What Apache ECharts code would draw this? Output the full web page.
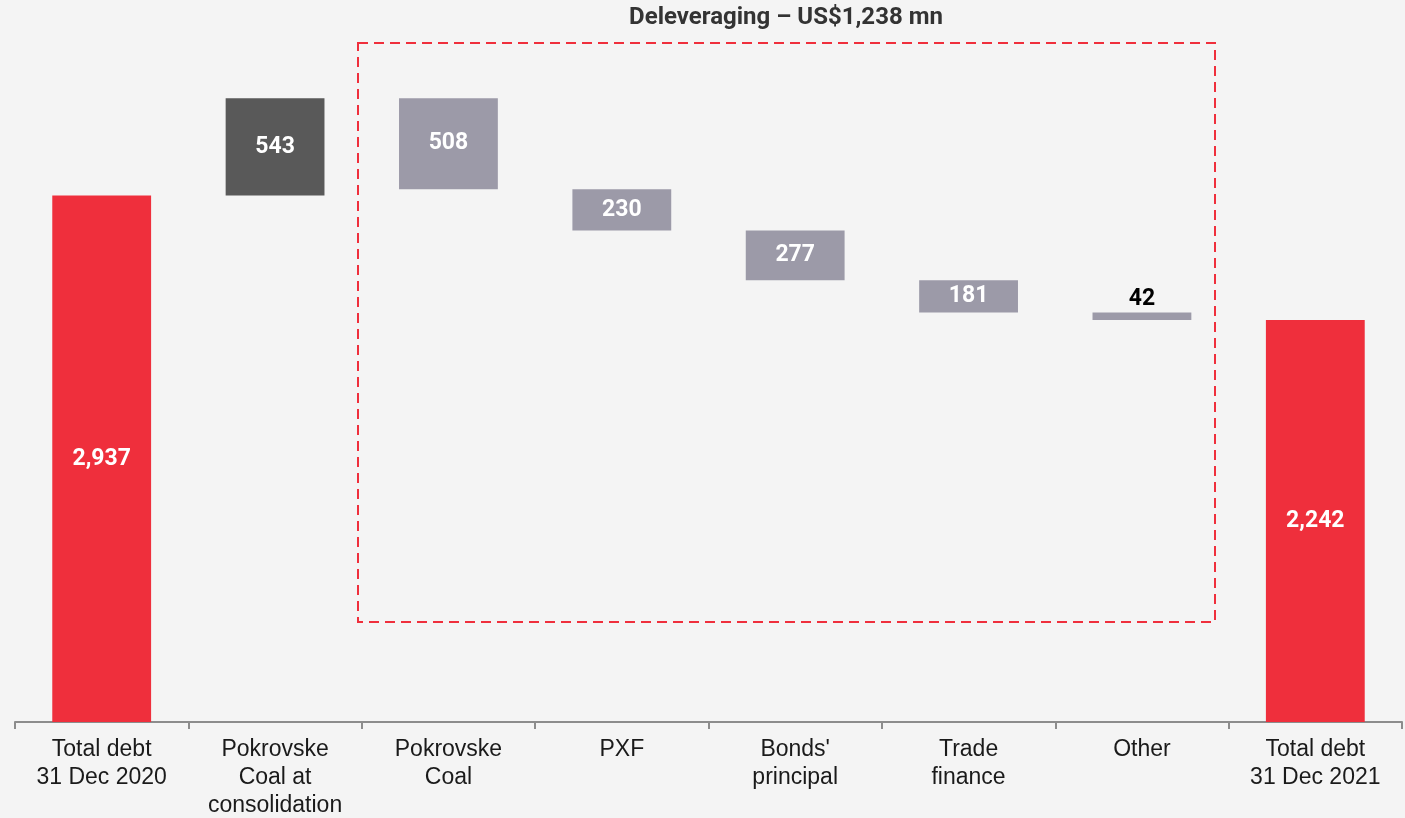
<!DOCTYPE html>
<html>
<head>
<meta charset="utf-8">
<script src="https://cdn.jsdelivr.net/npm/echarts@6/dist/echarts.min.js"></script>
<style>
  html, body { margin: 0; padding: 0; background: #f4f4f4; }
  #chart { width: 1405px; height: 818px; }
</style>
</head>
<body>
<div id="chart"></div>
<script>
// debt bridge 2020 -> 2021, waterfall
const categories = [
  'Total debt\n31 Dec 2020',
  'Pokrovske\nCoal at\nconsolidation',
  'Pokrovske\nCoal',
  'PXF',
  "Bonds'\nprincipal",
  'Trade\nfinance',
  'Other',
  'Total debt\n31 Dec 2021'
]
const amounts = [2937, 543, -508, -230, -277, -181, -42, 2242]
const kinds = ['total', 'up', 'down', 'down', 'down', 'down', 'down', 'total']
const labels = ['2,937', '543', '508', '230', '277', '181', '42', '2,242']

const colorOf = { total: '#ef2f3c', up: '#595959', down: '#9c9aa8' }

// invisible base + visible step
const base = []
const steps = []
let level = 0
amounts.forEach((v, i) => {
  if (kinds[i] === 'total') {
    base.push(0)
    steps.push(v)
    level = v
  } else if (v >= 0) {
    base.push(level)
    steps.push(v)
    level += v
  } else {
    level += v
    base.push(level)
    steps.push(-v)
  }
})

const chart = echarts.init(document.getElementById('chart'))
chart.setOption({
  backgroundColor: '#f4f4f4',
  animation: false,
  grid: { left: 15, right: 3, top: 5, bottom: 96, outerBoundsMode: 'none', containLabel: false },
  xAxis: {
    type: 'category',
    data: categories,
    axisLine: { lineStyle: { color: '#8c8c8c', width: 2 } },
    axisTick: { show: true, length: 7, lineStyle: { color: '#8c8c8c', width: 2 } },
    axisLabel: {
      color: '#1a1a1a',
      fontFamily: 'Liberation Sans',
      fontSize: 23,
      lineHeight: 28,
      margin: 14,
      interval: 0
    }
  },
  yAxis: { type: 'value', min: 0, max: 4000, show: false, splitLine: { show: false } },
  graphic: [
    {
      type: 'rect',
      shape: { x: 358, y: 43, width: 857, height: 579 },
      style: { fill: 'none', stroke: '#ef2f3c', lineWidth: 2, lineDash: [10, 6] }
    },
    {
      type: 'text',
      x: 786, y: 18,
      style: {
        text: 'Deleveraging – US$1,238 mn',
        fill: '#333333',
        font: 'bold 24px Roboto',
        align: 'center',
        verticalAlign: 'middle'
      }
    }
  ],
  series: [
    {
      type: 'bar',
      stack: 'w',
      data: base,
      itemStyle: { color: 'transparent' },
      silent: true,
      barWidth: '57%'
    },
    {
      type: 'bar',
      stack: 'w',
      barWidth: '57%',
      data: steps.map((v, i) => ({
        value: v,
        itemStyle: { color: colorOf[kinds[i]] },
        label: i === 6
          ? { position: 'top', color: '#000000', distance: 2 }
          : { position: 'inside', color: '#ffffff' }
      })),
      label: {
        show: true,
        fontFamily: 'Roboto',
        fontWeight: 'bold',
        fontSize: 23,
        formatter: (p) => labels[p.dataIndex]
      }
    }
  ]
})
</script>
</body>
</html>
